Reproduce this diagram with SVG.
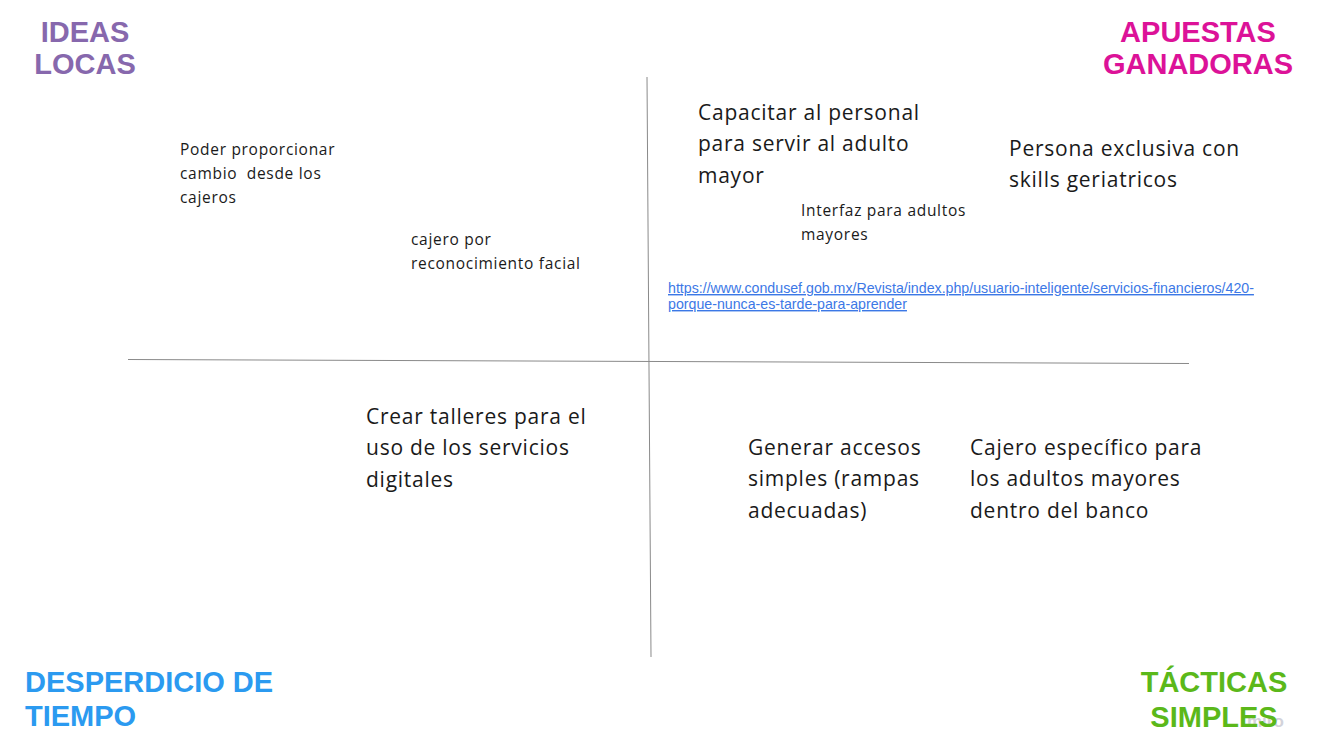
<svg xmlns="http://www.w3.org/2000/svg" width="1321" height="756" viewBox="0 0 1321 756">
<style>
.h{font-family:"Liberation Sans",Arial,sans-serif;font-weight:bold;font-size:29px}
.b{font-family:"Open Sans","Noto Sans",sans-serif;fill:#1a1a1a;white-space:pre}
.lg{font-size:21px;letter-spacing:0.75px}
.sm{font-size:15.5px;letter-spacing:0.7px}
.ln{fill:none;stroke:#8a8a8a;stroke-width:1}
.link{font-family:"Liberation Sans",Arial,sans-serif;font-size:14.2px;fill:#3c78e6;text-decoration:underline}
</style>
<rect width="1321" height="756" fill="#ffffff"/>
<g id="axes">
<line class="ln" x1="128" y1="359.5" x2="1189" y2="363.5"/>
<line class="ln" x1="647" y1="77" x2="651" y2="657"/>
</g>
<g id="ideas-locas"><text class="h" fill="#8768ad" text-anchor="middle"><tspan x="85" y="42">IDEAS</tspan><tspan x="85" y="74">LOCAS</tspan></text></g>
<g id="apuestas-ganadoras"><text class="h" fill="#dc1298" text-anchor="middle"><tspan x="1198" y="42">APUESTAS</tspan><tspan x="1198" y="74">GANADORAS</tspan></text></g>
<g id="desperdicio"><text class="h" fill="#2b9af0"><tspan x="25" y="692">DESPERDICIO DE</tspan><tspan x="25" y="726">TIEMPO</tspan></text></g>
<g id="watermark"><text x="1247" y="727" font-family="Liberation Sans,Arial,sans-serif" font-weight="bold" font-size="17" fill="#c9c9d2" opacity="0.8">miro</text></g>
<g id="tacticas"><text class="h" fill="#5bb81a" text-anchor="middle"><tspan x="1214" y="692">TÁCTICAS</tspan><tspan x="1214" y="727">SIMPLES</tspan></text></g>
<g id="n-cambio"><text class="b sm"><tspan x="180" y="154.5">Poder proporcionar</tspan><tspan x="180" y="178.5">cambio  desde los</tspan><tspan x="180" y="202.5">cajeros</tspan></text></g>
<g id="n-facial"><text class="b sm"><tspan x="411" y="244.5">cajero por</tspan><tspan x="411" y="268.5">reconocimiento facial</tspan></text></g>
<g id="n-capacitar"><text class="b lg"><tspan x="698" y="119.5">Capacitar al personal</tspan><tspan x="698" y="151">para servir al adulto</tspan><tspan x="698" y="182.5">mayor</tspan></text></g>
<g id="n-interfaz"><text class="b sm"><tspan x="801" y="215.5">Interfaz para adultos</tspan><tspan x="801" y="239.5">mayores</tspan></text></g>
<g id="n-persona"><text class="b lg"><tspan x="1009" y="155.5">Persona exclusiva con</tspan><tspan x="1009" y="187">skills geriatricos</tspan></text></g>
<g id="n-link"><text class="link"><tspan x="668" y="293">https://www.condusef.gob.mx/Revista/index.php/usuario-inteligente/servicios-financieros/420-</tspan><tspan x="668" y="309">porque-nunca-es-tarde-para-aprender</tspan></text></g>
<g id="n-talleres"><text class="b lg"><tspan x="366" y="423.5">Crear talleres para el</tspan><tspan x="366" y="455">uso de los servicios</tspan><tspan x="366" y="486.5">digitales</tspan></text></g>
<g id="n-accesos"><text class="b lg"><tspan x="748" y="454.5">Generar accesos</tspan><tspan x="748" y="486">simples (rampas</tspan><tspan x="748" y="517.5">adecuadas)</tspan></text></g>
<g id="n-cajero"><text class="b lg"><tspan x="970" y="454.5">Cajero específico para</tspan><tspan x="970" y="486">los adultos mayores</tspan><tspan x="970" y="517.5">dentro del banco</tspan></text></g>
</svg>
